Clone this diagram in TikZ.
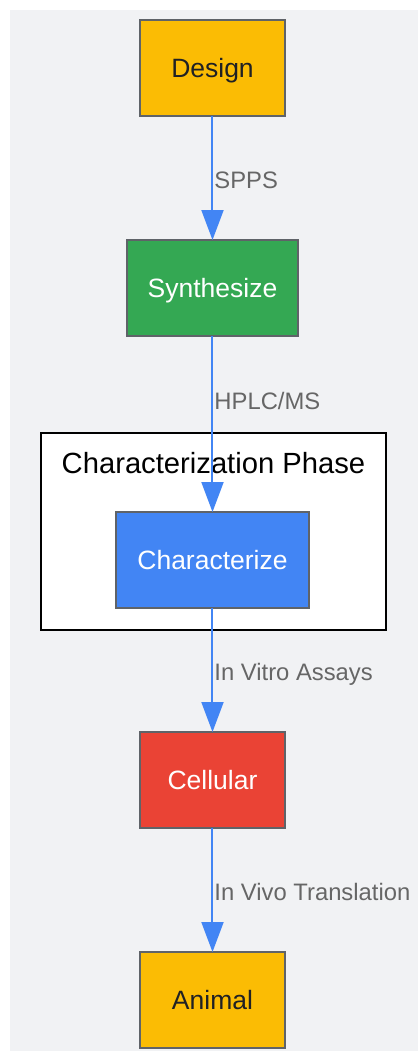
\documentclass[tikz,border=0pt]{standalone}
\usepackage{fontspec}
\setmainfont{Liberation Sans}
\usepackage{tikz}
\usetikzlibrary{arrows.meta, positioning}

\definecolor{gyellow}{HTML}{FBBC04}
\definecolor{ggreen}{HTML}{34A853}
\definecolor{gblue}{HTML}{4285F4}
\definecolor{gred}{HTML}{EA4335}
\definecolor{gborder}{HTML}{5F6368}
\definecolor{gdark}{HTML}{202124}
\definecolor{glabel}{HTML}{666666}
\definecolor{gbg}{HTML}{F1F2F4}

\begin{document}
\begin{tikzpicture}[>={Triangle[length=15pt,width=11pt]}, node distance=62pt]
  \tikzstyle{stepbox}=[rectangle, draw=gborder, line width=1pt, minimum width=72.5pt,
                       minimum height=48pt, inner xsep=10.5pt, outer sep=0pt,
                       text height=9.5pt, text depth=0pt,
                       font=\fontsize{13.25}{16}\selectfont]
  \tikzstyle{flow}=[->, draw=gblue, line width=1pt]
  \tikzstyle{lbl}=[right, text=glabel, inner sep=0.5pt, text height=10.6pt, text depth=0pt,
                   font=\fontsize{11.9}{14}\selectfont]
  \tikzstyle{phasebox}=[rectangle, draw=black, fill=white, line width=1pt, outer sep=0pt,
                        minimum width=172.5pt, minimum height=98.5pt]

  \useasboundingbox (-106.25pt,34pt) rectangle (102.75pt,-491.5pt);
  \fill[gbg] (-101.25pt,29pt) rectangle (102.75pt,-491.5pt);

  \node[stepbox] (Des)   [fill=gyellow, text=gdark]                {Design};
  \node[stepbox] (Syn)   [below=of Des, fill=ggreen, text=white]  {Synthesize};
  \node[phasebox] (Phase) [below=48.5pt of Syn, xshift=0.5pt]     {};
  \node          (PhaseTitle) [below=15pt of Phase.north, anchor=center,
                               font=\fontsize{14.6}{17}\selectfont] {Characterization Phase};
  \node[stepbox] (Char)  [below=88pt of Syn, fill=gblue, text=white] {Characterize};
  \node[stepbox] (Cell)  [below=of Char, fill=gred, text=white]   {Cellular};
  \node[stepbox] (Anim)  [below=of Cell, fill=gyellow, text=gdark] {Animal};

  \path
        (Des)  edge [flow] node [lbl]           {SPPS} (Syn)
        (Syn)  edge [flow] node [lbl, pos=0.36] {HPLC/MS} (Char)
        (Char) edge [flow] node [lbl]           {In Vitro Assays} (Cell)
        (Cell) edge [flow] node [lbl]           {In Vivo Translation} (Anim);
\end{tikzpicture}
\end{document}
